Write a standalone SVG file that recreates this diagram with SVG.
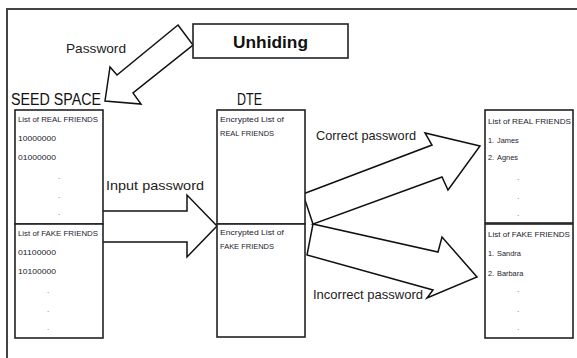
<svg xmlns="http://www.w3.org/2000/svg" width="577" height="358" viewBox="0 0 577 358">
<style>
.box{fill:#fff;stroke:#222;stroke-width:1.6}
.arrow{fill:#fff;stroke:#111;stroke-width:1.5;stroke-linejoin:miter}
.sm{font-family:"Liberation Sans",Arial,sans-serif;font-size:7.4px;fill:#22222e}
.md{font-family:"Liberation Sans",Arial,sans-serif;font-size:13px;fill:#222}
.lg{font-family:"Liberation Sans",Arial,sans-serif;font-size:16px;fill:#111}
.dot{font-family:"Liberation Sans",Arial,sans-serif;font-size:8px;fill:#555}
</style>
<rect x="0" y="0" width="577" height="358" fill="#fff"/>
<rect x="7" y="9" width="620" height="400" fill="none" stroke="#444" stroke-width="2"/>

<g id="connectors">
  <polygon class="arrow" points="178,25 193,45 133,93 141,104 105,101 110,67 117,75"/>
  <polygon class="arrow" points="102,211 187,211 187,195 217,226 187,257 187,242 102,242"/>
  <polygon class="arrow" points="303,194 432,145 425,133 480,146 448,190 442,177 313,224 438,252 442,237 477,277 427,298 433,290 307,255 313,224"/>
  <text class="md" x="66" y="53" textLength="60" lengthAdjust="spacingAndGlyphs">Password</text>
  <text class="md" x="106" y="190" font-size="14" textLength="98" lengthAdjust="spacingAndGlyphs">Input password</text>
  <text class="md" x="316" y="140" textLength="100" lengthAdjust="spacingAndGlyphs">Correct password</text>
  <text class="md" x="313" y="299" textLength="110" lengthAdjust="spacingAndGlyphs">Incorrect password</text>
</g>

<g id="unhiding">
  <rect class="box" x="193" y="24" width="155" height="34"/>
  <text x="270.5" y="48" text-anchor="middle" font-family="'Liberation Sans',Arial,sans-serif" font-size="17" font-weight="bold" fill="#111" textLength="75" lengthAdjust="spacingAndGlyphs">Unhiding</text>
</g>

<g id="seed-space">
  <text class="lg" x="11" y="105" textLength="90" lengthAdjust="spacingAndGlyphs">SEED SPACE</text>
  <rect class="box" x="15" y="110" width="88" height="114"/>
  <rect class="box" x="15" y="224" width="88" height="114"/>
  <text class="sm" x="18" y="121.5" textLength="80" lengthAdjust="spacingAndGlyphs">List of REAL FRIENDS</text>
  <text class="sm" x="18" y="140.5" textLength="38" lengthAdjust="spacingAndGlyphs">10000000</text>
  <text class="sm" x="18" y="159.5" textLength="38" lengthAdjust="spacingAndGlyphs">01000000</text>
  <text class="dot" x="58" y="179">.</text>
  <text class="dot" x="58" y="198">.</text>
  <text class="dot" x="58" y="215">.</text>
  <text class="sm" x="18" y="235.5" textLength="80" lengthAdjust="spacingAndGlyphs">List of FAKE FRIENDS</text>
  <text class="sm" x="18" y="254.5" textLength="38" lengthAdjust="spacingAndGlyphs">01100000</text>
  <text class="sm" x="18" y="273.5" textLength="38" lengthAdjust="spacingAndGlyphs">10100000</text>
  <text class="dot" x="47" y="293">.</text>
  <text class="dot" x="47" y="312">.</text>
  <text class="dot" x="47" y="330">.</text>
</g>

<g id="dte">
  <text class="lg" x="237" y="105" textLength="25" lengthAdjust="spacingAndGlyphs">DTE</text>
  <rect class="box" x="217" y="110" width="88" height="114"/>
  <rect class="box" x="217" y="224" width="88" height="113"/>
  <text class="sm" x="220" y="121.5" textLength="64" lengthAdjust="spacingAndGlyphs">Encrypted List of</text>
  <text class="sm" x="220" y="135.5" textLength="54" lengthAdjust="spacingAndGlyphs">REAL FRIENDS</text>
  <text class="sm" x="220" y="234.5" textLength="64" lengthAdjust="spacingAndGlyphs">Encrypted List of</text>
  <text class="sm" x="220" y="248.5" textLength="54" lengthAdjust="spacingAndGlyphs">FAKE FRIENDS</text>
</g>

<g id="result-lists">
  <rect class="box" x="485" y="110" width="88" height="113"/>
  <rect class="box" x="485" y="224" width="88" height="114"/>
  <text class="sm" x="488" y="123.5" textLength="83" lengthAdjust="spacingAndGlyphs">List of  REAL FRIENDS</text>
  <text class="sm" x="488" y="142.5">1.</text><text class="sm" x="497" y="142.5">James</text>
  <text class="sm" x="488" y="159.5">2.</text><text class="sm" x="497" y="159.5">Agnes</text>
  <text class="dot" x="517" y="180">.</text>
  <text class="dot" x="517" y="199">.</text>
  <text class="dot" x="517" y="216">.</text>
  <text class="sm" x="488" y="236.5" textLength="82" lengthAdjust="spacingAndGlyphs">List of FAKE FRIENDS</text>
  <text class="sm" x="488" y="255.5">1.</text><text class="sm" x="497" y="255.5">Sandra</text>
  <text class="sm" x="488" y="275.5">2.</text><text class="sm" x="497" y="275.5">Barbara</text>
  <text class="dot" x="517" y="292">.</text>
  <text class="dot" x="517" y="312">.</text>
  <text class="dot" x="517" y="330">.</text>
</g>
</svg>
